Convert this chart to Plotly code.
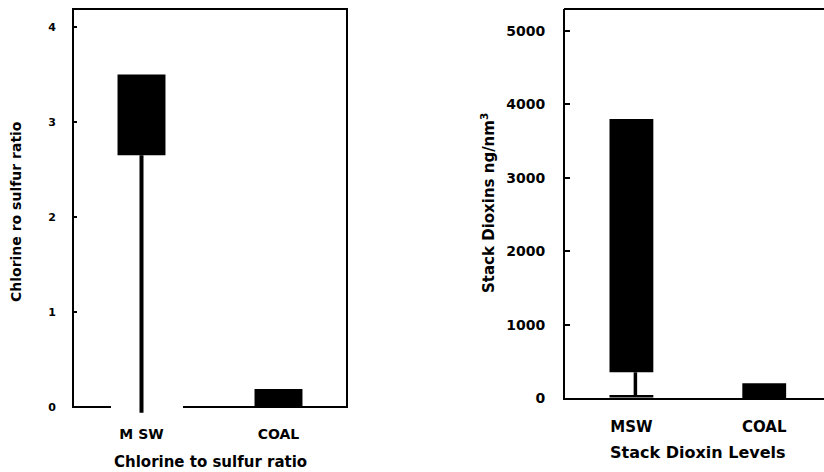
import plotly.graph_objects as go

# ---- data ----
categories = ["MSW", "COAL"]
left_ticktext = ["M SW", "COAL"]
cat_pos = [0, 1]

ratio_low = [2.65, 0.0]      # box bottom
ratio_high = [3.5, 0.19]     # box top
ratio_whisker_min = -0.06    # MSW whisker end

dioxin_low = [350, 0]
dioxin_high = [3800, 200]
dioxin_whisker_min = 25      # MSW whisker end (capped)

ratio_ticks = [0, 1, 2, 3, 4]
dioxin_ticks = [0, 1000, 2000, 3000, 4000, 5000]

W, H = 824, 472
HE = 464  # effective rendered plot height observed in the viewer
def px(x): return x / W
def py(y): return 1 - y / HE

FONT = "DejaVu Sans"
fig = go.Figure()

# ---- left panel: boxes ----
fig.add_trace(go.Bar(
    x=cat_pos, y=[h - l for h, l in zip(ratio_high, ratio_low)], base=ratio_low,
    width=0.35, marker=dict(color="black", line=dict(width=0)),
    xaxis="x", yaxis="y", showlegend=False, hoverinfo="skip"))
fig.add_trace(go.Scatter(
    x=[cat_pos[0], cat_pos[0]], y=[ratio_whisker_min, ratio_low[0]],
    mode="lines", line=dict(color="black", width=4),
    xaxis="x", yaxis="y", showlegend=False, hoverinfo="skip"))

# ---- right panel: boxes ----
fig.add_trace(go.Bar(
    x=cat_pos, y=[h - l for h, l in zip(dioxin_high, dioxin_low)], base=dioxin_low,
    width=0.33, marker=dict(color="black", line=dict(width=0)),
    xaxis="x2", yaxis="y2", showlegend=False, hoverinfo="skip"))
fig.add_trace(go.Scatter(
    x=[cat_pos[0] + 0.03, cat_pos[0] + 0.03], y=[dioxin_whisker_min, dioxin_low[0]],
    mode="lines", line=dict(color="black", width=3.5),
    xaxis="x2", yaxis="y2", showlegend=False, hoverinfo="skip"))
fig.add_trace(go.Scatter(
    x=[cat_pos[0] - 0.165, cat_pos[0] + 0.165], y=[dioxin_whisker_min, dioxin_whisker_min],
    mode="lines", line=dict(color="black", width=2.5),
    xaxis="x2", yaxis="y2", showlegend=False, hoverinfo="skip"))

tickfont_l = dict(family=FONT, size=11, color="black", weight="bold")
tickfont_r = dict(family=FONT, size=14, color="black", weight="bold")

fig.update_layout(
    width=W, height=H,
    margin=dict(l=0, r=0, t=0, b=0),
    paper_bgcolor="white", plot_bgcolor="white",
    showlegend=False,
    xaxis=dict(domain=[px(73), px(347)], range=[-0.5, 1.5],
               tickvals=cat_pos, ticktext=left_ticktext,
               tickfont=dict(family=FONT, size=14, color="black", weight="bold"),
               showgrid=False, zeroline=False, showline=False, ticks="",
               ticklabelstandoff=10, fixedrange=True),
    yaxis=dict(domain=[py(413.65), py(9)], range=[-0.07, 4.19],
               tickvals=ratio_ticks, tickfont=tickfont_l,
               showgrid=False, zeroline=False, showline=False,
               ticks="inside", ticklen=4, tickwidth=2, tickcolor="black",
               ticklabelstandoff=16, fixedrange=True),
    xaxis2=dict(domain=[px(565), 1], range=[-0.5, 1.45], anchor="y2",
                tickvals=cat_pos, ticktext=categories,
                tickfont=dict(family=FONT, size=15, color="black", weight="bold"),
                showgrid=False, zeroline=False, showline=True, linewidth=2, linecolor="black",
                ticks="", ticklabelstandoff=14, fixedrange=True),
    yaxis2=dict(domain=[py(398), py(9)], range=[0, 5300], anchor="x2",
                tickvals=dioxin_ticks, tickfont=tickfont_r,
                showgrid=False, zeroline=False, showline=True, linewidth=2, linecolor="black",
                ticks="inside", ticklen=5, tickwidth=2, tickcolor="black",
                ticklabelstandoff=15, fixedrange=True),
)

# frame lines (left panel has a broken baseline like the scan)
frame = dict(color="black", width=2)
shapes = [
    dict(type="line", xref="paper", yref="paper", x0=px(73), x1=px(73), y0=py(407), y1=py(9), line=frame),
    dict(type="line", xref="paper", yref="paper", x0=px(347), x1=px(347), y0=py(407), y1=py(9), line=frame),
    dict(type="line", xref="paper", yref="paper", x0=px(72), x1=px(348), y0=py(9), y1=py(9), line=frame),
    dict(type="line", xref="paper", yref="paper", x0=px(72), x1=px(111), y0=py(407), y1=py(407), line=frame),
    dict(type="line", xref="paper", yref="paper", x0=px(183), x1=px(348), y0=py(407), y1=py(407), line=frame),
    dict(type="line", xref="paper", yref="paper", x0=px(564), x1=1, y0=py(9), y1=py(9), line=frame),
]
fig.update_layout(shapes=shapes)

annotations = [
    dict(text="Chlorine to sulfur ratio", x=px(210), y=py(462), xref="paper", yref="paper",
         showarrow=False, xanchor="center", yanchor="middle",
         font=dict(family=FONT, size=15, color="black", weight="bold")),
    dict(text="Chlorine ro sulfur ratio", x=px(16), y=py(212), xref="paper", yref="paper",
         showarrow=False, xanchor="center", yanchor="middle", textangle=-90,
         font=dict(family=FONT, size=14, color="black", weight="bold")),
    dict(text="Stack Dioxin Levels", x=px(698), y=py(452), xref="paper", yref="paper",
         showarrow=False, xanchor="center", yanchor="middle",
         font=dict(family=FONT, size=16, color="black", weight="bold")),
    dict(text="Stack Dioxins ng/nm<sup>3</sup>", x=px(488), y=py(203), xref="paper", yref="paper",
         showarrow=False, xanchor="center", yanchor="middle", textangle=-90,
         font=dict(family=FONT, size=15, color="black", weight="bold")),
]
fig.update_layout(annotations=annotations)

fig.write_html(
    "out.html",
    config={"responsive": False, "displayModeBar": False},
    post_script="document.body.style.margin='0';document.body.style.overflow='hidden';",
)
